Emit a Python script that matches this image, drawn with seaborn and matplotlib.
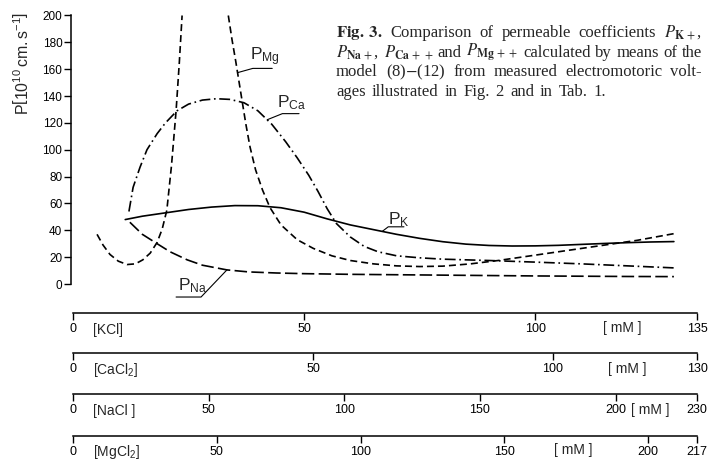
import numpy as np
import matplotlib
matplotlib.use("Agg")
import matplotlib.pyplot as plt
import seaborn as sns

# values: x on the KCl scale [mM], P in 1e-10 cm/s
k_x = [11.3, 15, 20, 25, 30, 35, 40, 45, 50, 55, 60, 65, 70, 75, 80, 85,
       90, 95, 100, 105, 110, 115, 120, 125, 130]
k_p = [48, 50.5, 53, 55.5, 57.3, 58.4, 58.3, 56.8, 53.5, 48.5, 44, 40.5,
       37, 34, 31.5, 29.7, 28.7, 28.3, 28.4, 28.8, 29.5, 30.2, 30.8, 31.3, 31.6]

ca_x = [12.1, 13, 14.5, 16, 18.2, 20, 22.5, 25, 28, 31, 34, 37, 40, 43, 46,
        48.5, 51, 53, 55, 57, 60, 63, 66, 70, 75, 80, 90, 100, 110, 120, 130]
ca_p = [54, 72, 87, 100, 112, 120, 129, 134, 137, 138, 137.5, 135, 129, 119,
        106, 94, 81, 69, 56, 45, 35, 28, 24, 21, 19.5, 18.5, 17.5, 16.3, 15,
        13.5, 12]

mg_left_x = [5.2, 6.5, 8.0, 9.8, 11.7, 13.5, 15.1, 16.7, 18.2, 19.3, 20.3,
             21.3, 22.3, 23.0, 23.6]
mg_left_p = [37, 29, 22, 17, 14.5, 15, 18, 23, 31, 41, 55, 88, 129, 165, 200]

mg_right_x = [33.6, 34.4, 35.2, 35.9, 36.6, 37.4, 38.3, 39.5, 41, 42.6, 45,
              48.5, 52, 56, 60, 65, 70, 75, 80, 86, 92, 98, 104, 110, 116,
              122, 130]
mg_right_p = [200, 182, 166, 151, 136, 119, 102, 85, 70, 57, 44, 33, 26.5,
              21, 17.5, 15, 13.5, 13, 13.3, 15, 17.5, 20.5, 23.5, 26.5, 29.5,
              32.5, 37.5]

na_x = [12.3, 15, 18.2, 21, 24.7, 28, 33.3, 38, 44, 50, 60, 70, 80, 90, 100,
        110, 120, 130]
na_p = [46, 37, 30, 24, 18, 14, 10.5, 9, 8.2, 7.7, 7.2, 6.9, 6.6, 6.3, 6,
        5.8, 5.6, 5.5]

p_ticks = list(range(0, 201, 20))

# concentration scales below the plot
salt_names = [r"[KCl]", r"[CaCl$_2$]", r"[NaCl ]", r"[MgCl$_2$]"]
salt_max = [135, 130, 230, 217]
salt_ticks = [[0, 50, 100, 135],
              [0, 50, 100, 130],
              [0, 50, 100, 150, 200, 230],
              [0, 50, 100, 150, 200, 217]]

caption = [
    r"$\mathbf{Fig.\;3.}$ Comparison of permeable coefficients $P_{\mathbf{K}\,+}$,",
    r"$P_{\mathbf{Na}\,+}$, $P_{\mathbf{Ca}\,+\,+}$ and $P_{\mathbf{Mg}\,+\,+}$ calculated by means of the",
    r"model (8)$-$(12) from measured electromotoric volt-",
    r"ages illustrated in Fig. 2 and in Tab. 1.",
]

sns.set_theme(style="ticks")
plt.rcParams["font.family"] = ["Liberation Sans", "DejaVu Sans"]
plt.rcParams["mathtext.fontset"] = "custom"
plt.rcParams["mathtext.rm"] = "Liberation Sans"
plt.rcParams["mathtext.it"] = "Liberation Sans:italic"
plt.rcParams["mathtext.bf"] = "Liberation Sans:bold"
plt.rcParams["mathtext.sf"] = "Liberation Sans"

W, H = 716, 473


def fx(px):
    return px / W


def fy(py):
    return 1 - py / H


fig = plt.figure(figsize=(W / 100, H / 100), dpi=100)
fig.patch.set_facecolor("white")

# main panel
ax = fig.add_axes([fx(70.7), fy(284), fx(697) - fx(70.7), fy(15.5) - fy(284)])
ax.set_facecolor("none")

lw = 1.2
sns.lineplot(x=k_x, y=k_p, ax=ax, color="black", linewidth=lw,
             linestyle="-", sort=False, estimator=None)
sns.lineplot(x=ca_x, y=ca_p, ax=ax, color="black", linewidth=lw,
             linestyle=(0, (6.5, 2.2, 1.0, 2.2)), sort=False, estimator=None)
sns.lineplot(x=mg_left_x, y=mg_left_p, ax=ax, color="black", linewidth=lw,
             linestyle=(0, (4.2, 2.4)), sort=False, estimator=None)
sns.lineplot(x=mg_right_x, y=mg_right_p, ax=ax, color="black", linewidth=lw,
             linestyle=(0, (4.2, 2.4)), sort=False, estimator=None)
sns.lineplot(x=na_x, y=na_p, ax=ax, color="black", linewidth=lw,
             linestyle=(0, (7.5, 2.6)), sort=False, estimator=None)

ax.set_xlim(-0.5, 135)
ax.set_ylim(0, 200)
ax.set_yticks(p_ticks)
ax.set_xticks([])
ax.set_xlabel("")
ax.set_ylabel("")
sns.despine(ax=ax, bottom=True)
ax.spines["left"].set_color("black")
ax.spines["left"].set_linewidth(1.1)
ax.tick_params(axis="y", length=5, width=1, colors="black", labelsize=8.5, pad=1)

fig.text(fx(22), fy(63), r"P$\left[10^{10}\,\mathrm{cm.s^{-1}}\right]$",
         rotation=90, ha="center", va="center", fontsize=11.5)

# curve labels with underline + leader to the curve
labels = [
    (r"P$_{\mathrm{Na}}$", 22.7, -4.5, 22.3, 27.7, -9.7, na_x, na_p, 33.3, "right"),
    (r"P$_{\mathrm{Mg}}$", 38.3, 166.5, 38.9, 43.1, 160.6, mg_right_x, mg_right_p, 35.6, "left"),
    (r"P$_{\mathrm{Ca}}$", 44.1, 131.6, 45.3, 48.9, 126.9, ca_x, ca_p, 42.0, "left"),
    (r"P$_{\mathrm{K}}$", 68.2, 44.6, 68.2, 71.6, 42.6, k_x, k_p, 66.9, "left"),
]
for txt, tx, ty, u0, u1, uy, cx, cp, ux, side in labels:
    ax.text(tx, ty, txt, fontsize=12.5, va="baseline", ha="left", clip_on=False)
    cy = np.interp(ux, cx, cp)
    if side == "right":
        xs = [u0, u1, ux]
    else:
        xs = [u1, u0, ux]
    ax.plot(xs, [uy, uy, cy], color="black", lw=0.8, clip_on=False)

# concentration scales
lines_y = [313, 353, 394, 436]
name_pos = [(93, 330), (93, 370), (93, 411), (93, 452)]
mm_pos = [(603, 328), (608, 369), (631, 410), (554, 450)]
for name, vmax, ticks, yl, npos, mpos in zip(salt_names, salt_max, salt_ticks,
                                             lines_y, name_pos, mm_pos):
    bx = fig.add_axes([fx(73), fy(yl), fx(697) - fx(73), 0.001])
    bx.set_facecolor("none")
    bx.set_xlim(0, vmax)
    bx.set_xticks(ticks)
    bx.set_yticks([])
    for s in ["left", "right", "top"]:
        bx.spines[s].set_visible(False)
    bx.spines["bottom"].set_color("black")
    bx.spines["bottom"].set_linewidth(1.1)
    bx.tick_params(axis="x", length=5, width=1, colors="black", labelsize=9,
                   pad=2, direction="out")
    fig.text(fx(npos[0]), fy(npos[1]), name, fontsize=10, va="center", ha="left")
    fig.text(fx(mpos[0]), fy(mpos[1]), "[ mM ]", fontsize=10, va="center", ha="left")

# caption, justified between two margins (last line left aligned)
fig.canvas.draw()
renderer = fig.canvas.get_renderer()
cap_left, cap_right = 336, 702
space_px = 6.0
for i, line in enumerate(caption):
    words = line.split(" ")
    texts = [fig.text(0, fy(37 + 19.7 * i), w, fontfamily="Liberation Serif",
                      math_fontfamily="stix", fontsize=12, va="baseline",
                      ha="left") for w in words]
    widths = [t.get_window_extent(renderer).width for t in texts]
    if i < len(caption) - 1:
        gap = (cap_right - cap_left - sum(widths)) / (len(words) - 1)
    else:
        gap = space_px
    x = cap_left
    for t, w in zip(texts, widths):
        t.set_x(fx(x))
        x += w + gap

fig.savefig("out.png", dpi=100)
